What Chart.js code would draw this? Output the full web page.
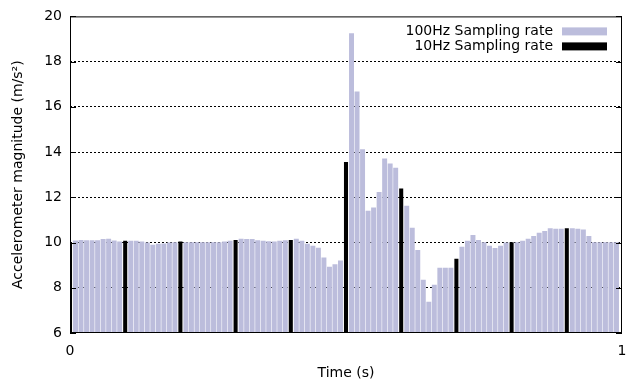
<!DOCTYPE html>
<html>
<head>
<meta charset="utf-8">
<script src="https://cdn.jsdelivr.net/npm/chart.js@4/dist/chart.umd.min.js"></script>
<style>
  html, body { margin: 0; padding: 0; background: #fff; }
  #wrap { width: 626px; height: 381px; }
</style>
</head>
<body>
<div id="wrap"><canvas id="accChart" width="626" height="381"></canvas></div>
<script>
// --------- Data ----------------------------
// 100Hz samples, index i -> t = i/100 (null where the 10Hz sample sits)
const acc100 = [
  null, 10.08, 10.10, 10.09, 10.09, 10.09, 10.14, 10.15, 10.08, 10.03,
  null, 10.06, 10.06, 10.03, 9.99, 9.89, 9.93, 9.94, 9.99, 10.00,
  null, 10.00, 10.00, 10.00, 10.00, 10.00, 10.00, 10.00, 10.03, 10.07,
  null, 10.15, 10.14, 10.14, 10.09, 10.06, 10.04, 10.03, 10.06, 10.09,
  null, 10.15, 10.06, 9.93, 9.84, 9.75, 9.32, 8.92, 9.03, 9.19,
  null, 19.24, 16.66, 14.11, 11.39, 11.53, 12.22, 13.70, 13.48, 13.29,
  null, 11.61, 10.64, 9.66, 8.34, 7.37, 8.12, 8.87, 8.87, 8.87,
  null, 9.80, 10.06, 10.32, 10.10, 10.00, 9.84, 9.74, 9.84, 9.99,
  null, 10.00, 10.06, 10.15, 10.28, 10.42, 10.50, 10.62, 10.59, 10.59,
  null, 10.62, 10.59, 10.56, 10.28, 10.00, 10.00, 10.00, 10.00, 10.00
];
// 10Hz samples, index k -> t = k/10
const acc10 = [10.00, 10.06, 10.03, 10.10, 10.10, 13.55, 12.37, 9.27, 10.00, 10.62];

const label100 = "100Hz Sampling rate";
const label10 = "10Hz Sampling rate";
const yTicks = [6, 8, 10, 12, 14, 16, 18, 20];
const xTicks = [0, 1];

const FONT = '"DejaVu Sans", sans-serif';

const pts100 = [];
acc100.forEach((v, i) => { if (v !== null) pts100.push({ x: i / 100, y: v }); });
const pts10 = acc10.map((v, k) => ({ x: k / 10, y: v }));

// gnuplot style frame, inward tics and key (text left of swatch)
const framePlugin = {
  id: "frame",
  afterDraw(chart) {
    const { ctx, chartArea: a, scales } = chart;
    ctx.save();
    ctx.strokeStyle = "#000";
    ctx.lineWidth = 1;
    ctx.strokeRect(a.left + 0.5, a.top + 0.5, a.right - a.left - 1, a.bottom - a.top - 1);
    ctx.beginPath();
    yTicks.forEach(t => {
      const y = Math.round(scales.y.getPixelForValue(t)) + 0.5;
      ctx.moveTo(a.left, y); ctx.lineTo(a.left + 6, y);
      ctx.moveTo(a.right, y); ctx.lineTo(a.right - 6, y);
    });
    ctx.stroke();

    // key
    const items = [
      { text: label100, color: "#bcbddc" },
      { text: label10, color: "#000000" }
    ];
    ctx.font = "14px " + FONT;
    ctx.textAlign = "right";
    ctx.textBaseline = "middle";
    items.forEach((it, i) => {
      const cy = a.top + 15 + i * 15;
      ctx.fillStyle = "#000";
      ctx.fillText(it.text, a.right - 69, cy);
      ctx.fillStyle = it.color;
      ctx.fillRect(a.right - 60, cy - 4, 45, 8);
    });
    ctx.restore();
  }
};

new Chart(document.getElementById("accChart"), {
  type: "bar",
  data: {
    datasets: [
      {
        label: label100,
        data: pts100,
        backgroundColor: "#bcbddc",
        barThickness: 4.3,
        grouped: false,
        order: 1
      },
      {
        label: label10,
        data: pts10,
        backgroundColor: "#000000",
        barThickness: 3.4,
        grouped: false,
        order: 0
      }
    ]
  },
  options: {
    responsive: false,
    animation: false,
    layout: { padding: { left: 0, right: 0, top: 16, bottom: 0 } },
    plugins: {
      legend: { display: false },
      tooltip: { enabled: false }
    },
    scales: {
      x: {
        type: "linear",
        offset: false,
        min: 0,
        max: 1,
        afterFit: s => { s.height = 48; s.paddingLeft = 0; s.paddingRight = 4; },
        afterBuildTicks: s => { s.ticks = xTicks.map(v => ({ value: v })); },
        grid: { display: false, drawTicks: false },
        border: { display: false },
        ticks: {
          padding: 10,
          color: "#000",
          font: { family: FONT, size: 14 },
          callback: v => String(v)
        },
        title: {
          display: true,
          text: "Time (s)",
          color: "#000",
          font: { family: FONT, size: 14 },
          padding: { top: 0, bottom: -1 }
        }
      },
      y: {
        min: 6,
        max: 20,
        z: 1,
        afterFit: s => { s.width = 70; },
        afterBuildTicks: s => { s.ticks = yTicks.map(v => ({ value: v })); },
        grid: {
          drawTicks: false,
          lineWidth: 1,
          color: c => (c.tick && (c.tick.value === 6 || c.tick.value === 20)) ? "rgba(0,0,0,0)" : "#000"
        },
        border: { display: false, dash: [2, 2] },
        ticks: {
          padding: 8,
          color: "#000",
          font: { family: FONT, size: 14 }
        },
        title: {
          display: true,
          text: "Accelerometer magnitude (m/s²)",
          color: "#000",
          font: { family: FONT, size: 14 },
          padding: { top: 10, bottom: 0 }
        }
      }
    }
  },
  plugins: [framePlugin]
});
</script>
</body>
</html>
